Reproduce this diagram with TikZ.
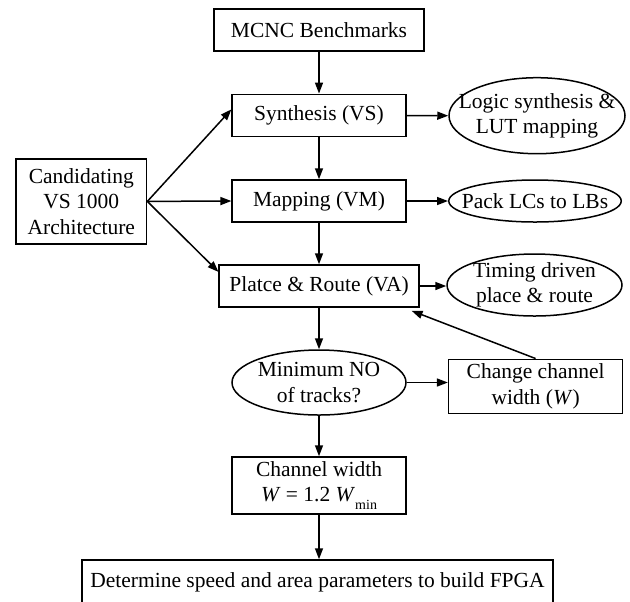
\documentclass[tikz,border=0pt]{standalone}
\usepackage{fontspec}
\setmainfont{Liberation Serif}
\usetikzlibrary{shapes.geometric,arrows.meta}
\begin{document}
\begin{tikzpicture}[x=0.5pt,y=-0.5pt,
  every node/.style={font=\fontsize{10.75}{12.75}\selectfont, align=center},
  box/.style={draw, line width=0.75pt, rectangle, inner sep=0pt},
  ell/.style={draw, line width=0.75pt, ellipse, inner sep=0pt},
  txt/.style={inner sep=0pt},
  arr/.style={line width=0.75pt, -{Triangle[length=5.5pt,width=4pt]}}]
\fill[white] (0,0) rectangle (630,601);
\useasboundingbox (0,0) rectangle (630,601);
\clip (0,0) rectangle (630,601);

\node[box, minimum width=104.85pt, minimum height=21pt] (mcnc) at (319,30) {MCNC Benchmarks};
\node[box, minimum width=86.85pt, minimum height=21.2pt] (syn) at (319,115.5) {Synthesis (VS)};
\node[ell, minimum width=88pt, minimum height=38pt] (logic) at (537,115.7) {};
\node[txt] (logict) at (logic.center) {Logic synthesis \&\\LUT mapping};
\node[box, minimum width=65.3pt, minimum height=42.65pt] (cand) at (81.3,201.4) {Candidating\\VS 1000\\Architecture};
\node[box, minimum width=86.85pt, minimum height=21pt] (map) at (319,201) {Mapping (VM)};
\node[ell, minimum width=86.25pt, minimum height=21pt] (pack) at (535,201) {};
\node[txt] (packt) at (pack.center) {Pack LCs to LBs};
\node[box, minimum width=99.8pt, minimum height=21pt] (pr) at (319,286) {Platce \& Route (VA)};
\node[ell, minimum width=87.5pt, minimum height=31pt] (timing) at (534.5,285) {};
\node[txt] (timingt) at (timing.center) {Timing driven\\place \& route};
\node[ell, minimum width=87pt, minimum height=32.5pt] (minn) at (319,382.5) {};
\node[txt] (mint) at (minn.center) {Minimum NO\\of tracks?};
\node[box, minimum width=87pt, minimum height=27pt] (chg) at (535.6,386.3) {Change channel\\width (\textit{W})};
\node[box, minimum width=87pt, minimum height=28.5pt] (chw) at (319,485.5) {Channel width\\\textit{W} = 1.2 \textit{W}\raisebox{-0.8ex}{\scriptsize min}};
\node[box, minimum width=235.5pt, minimum height=22pt] (det) at (317.5,582) {Determine speed and area parameters to build FPGA};

\draw[arr] (mcnc.south) -- (syn.north);
\draw[arr] (syn.south) -- (map.north);
\draw[arr] (map.south) -- (pr.north);
\draw[arr] (pr.south) -- (minn.north);
\draw[arr] (minn.south) -- (chw.north);
\draw[arr] (chw.south) -- (chw.south |- det.north);
\draw[arr] (syn.east) -- (logic.west);
\draw[arr] (map.east) -- (pack.west);
\draw[arr] (pr.east) -- (pr.east -| timing.west);
\draw[arr] (minn.east) -- (minn.east -| chg.west);
\draw[arr] (cand.east) -- (syn.176);
\draw[arr] (cand.east) -- (map.west);
\draw[arr] (cand.east) -- (pr.172);
\draw[arr] (chg.north) -- ([xshift=-4pt,yshift=-1.5pt]pr.south east);
\end{tikzpicture}
\end{document}
